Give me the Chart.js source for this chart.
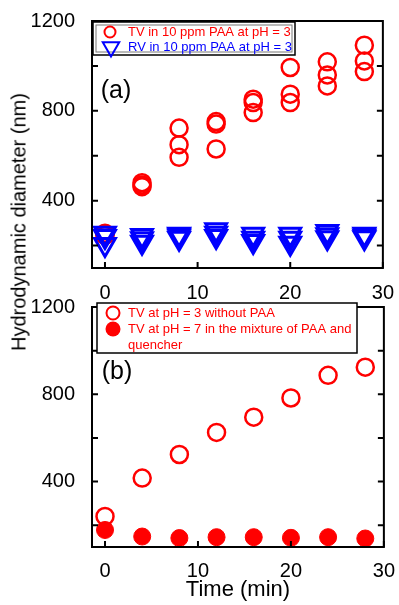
<!DOCTYPE html>
<html>
<head>
<meta charset="utf-8">
<script src="https://cdn.jsdelivr.net/npm/chart.js@4.4.1/dist/chart.umd.min.js"></script>
<style>
html, body { margin: 0; padding: 0; background: #fff; }
body { width: 399px; height: 605px; position: relative; overflow: hidden; font-family: "Liberation Sans", Arial, sans-serif; }
canvas { position: absolute; left: 0; }
#topChart { top: 0; }
#bottomChart { top: 286px; }
#yTitle { position: absolute; left: 19px; top: 222px; transform: translate(-50%, -50%) rotate(-90deg); font-size: 20px; white-space: nowrap; color: #000; }
</style>
</head>
<body>
<canvas id="topChart" width="399" height="300"></canvas>
<canvas id="bottomChart" width="399" height="319"></canvas>
<div id="yTitle">Hydrodynamic diameter (nm)</div>
<script>
const times = [0, 4, 8, 12, 16, 20, 24, 28];

// (a) three repeat measurements at each time
const tvPaaRun1 = [255, 480, 723, 752, 852, 993, 1018, 1092];
const tvPaaRun2 = [250, 470, 649, 741, 837, 874, 960, 1022];
const tvPaaRun3 = [245, 462, 593, 630, 792, 837, 911, 975];
const rvPaaRun1 = [255, 245, 250, 270, 250, 250, 262, 250];
const rvPaaRun2 = [240, 230, 242, 255, 232, 232, 248, 243];
const rvPaaRun3 = [205, 215, 232, 240, 218, 210, 235, 235];

// (b)
const tvNoPaa = [240, 416, 524, 625, 695, 783, 887, 924];
const tvQuenched = [178, 148, 141, 145, 145, 142, 145, 139];

const xTicks = [0, 10, 20, 30];
const yTicks = [200, 400, 600, 800, 1000, 1200];
const yLabelled = [400, 800, 1200];

const topLegend = [['TV in 10 ppm PAA at pH = 3'], ['RV in 10 ppm PAA at pH = 3']];
const bottomLegend = [['TV at pH = 3 without PAA'], ['TV at pH = 7 in the mixture of PAA and', 'quencher']];

const RED = '#ff0000';
const BLUE = '#0000ff';
const FONT = '"Liberation Sans", Arial, sans-serif';
Chart.defaults.font.family = FONT;
Chart.defaults.color = '#000';

const pts = ys => times.map((t, i) => ({ x: t, y: ys[i] }));

const ring = { pointStyle: 'circle', pointRadius: 8.5, pointBorderWidth: 2.5, pointBorderColor: RED, pointBackgroundColor: 'rgba(0,0,0,0)' };
const dot = { pointStyle: 'circle', pointRadius: 8.5, pointBorderWidth: 1, pointBorderColor: RED, pointBackgroundColor: RED };
const tri = { pointStyle: 'triangle', pointRotation: 180, pointRadius: 12, pointBorderWidth: 3, pointBorderColor: BLUE, pointBackgroundColor: 'rgba(0,0,0,0)' };

function drawMarker(ctx, kind, x, y, r, color) {
  ctx.save();
  ctx.strokeStyle = color;
  ctx.fillStyle = color;
  ctx.lineWidth = 2;
  ctx.beginPath();
  if (kind === 'tri') {
    const s = Math.sin(Math.PI / 3) * r;
    ctx.moveTo(x, y + r);
    ctx.lineTo(x - s, y - r / 2);
    ctx.lineTo(x + s, y - r / 2);
    ctx.closePath();
    ctx.stroke();
  } else {
    ctx.arc(x, y, r, 0, Math.PI * 2);
    if (kind === 'dot') ctx.fill(); else ctx.stroke();
  }
  ctx.restore();
}

// frame with inward ticks, legend box and panel tag
const panelDeco = {
  id: 'panelDeco',
  afterDatasetsDraw(chart) {
    const { ctx, chartArea: a, scales: { x, y } } = chart;
    ctx.save();
    ctx.strokeStyle = '#000';
    ctx.lineWidth = 2;
    ctx.strokeRect(a.left, a.top, a.right - a.left, a.bottom - a.top);
    ctx.beginPath();
    xTicks.forEach(v => {
      const px = x.getPixelForValue(v);
      ctx.moveTo(px, a.bottom);
      ctx.lineTo(px, a.bottom - 6);
    });
    yTicks.forEach(v => {
      const py = y.getPixelForValue(v);
      ctx.moveTo(a.left, py);
      ctx.lineTo(a.left + 6, py);
      ctx.moveTo(a.right, py);
      ctx.lineTo(a.right - 6, py);
    });
    ctx.stroke();
    ctx.restore();
  },
  afterDraw(chart, args, opts) {
    const ctx = chart.ctx;
    ctx.save();
    const b = opts.box;
    ctx.fillStyle = '#fff';
    ctx.fillRect(b.x, b.y, b.w, b.h);
    ctx.strokeStyle = '#000';
    ctx.lineWidth = 1.5;
    ctx.strokeRect(b.x, b.y, b.w, b.h);
    if (b.double) {
      ctx.strokeStyle = '#777';
      ctx.lineWidth = 1;
      ctx.strokeRect(b.x + 3, b.y + 3, b.w - 6, b.h - 6);
    }
    ctx.font = '13px ' + FONT;
    ctx.textBaseline = 'middle';
    ctx.textAlign = 'left';
    opts.rows.forEach(r => {
      drawMarker(ctx, r.kind, r.mx, r.y, r.r, r.color);
      ctx.fillStyle = r.textColor;
      r.lines.forEach((ln, i) => ctx.fillText(ln, r.tx, r.y + i * 16));
    });
    ctx.fillStyle = '#000';
    ctx.font = '25px ' + FONT;
    ctx.textAlign = 'center';
    ctx.fillText(opts.tag, opts.tagX, opts.tagY);
    ctx.restore();
  }
};

function makeScales(xHeight, xPad, xTitle) {
  return {
    x: {
      type: 'linear', min: -1.4, max: 30,
      grid: { display: false }, border: { display: false },
      afterBuildTicks: s => { s.ticks = xTicks.map(v => ({ value: v })); },
      afterFit: s => { s.height = xHeight; },
      ticks: { font: { size: 20 }, color: '#000', padding: xPad, maxRotation: 0, autoSkip: false },
      title: xTitle
        ? { display: true, text: 'Time (min)', font: { size: 22 }, color: '#000', padding: { top: 0, bottom: 2 } }
        : { display: false }
    },
    y: {
      min: 100, max: 1200,
      grid: { display: false }, border: { display: false },
      afterBuildTicks: s => { s.ticks = yTicks.map(v => ({ value: v })); },
      afterFit: s => { s.width = 92; },
      ticks: { font: { size: 20 }, color: '#000', padding: 9, callback: v => yLabelled.includes(v) ? String(v) : '' }
    }
  };
}

new Chart(document.getElementById('topChart'), {
  type: 'scatter',
  data: {
    datasets: [
      { label: topLegend[1][0], data: pts(rvPaaRun1), ...tri },
      { label: topLegend[1][0], data: pts(rvPaaRun2), ...tri },
      { label: topLegend[1][0], data: pts(rvPaaRun3), ...tri },
      { label: topLegend[0][0], data: pts(tvPaaRun1), ...ring },
      { label: topLegend[0][0], data: pts(tvPaaRun2), ...ring },
      { label: topLegend[0][0], data: pts(tvPaaRun3), ...ring }
    ]
  },
  options: {
    responsive: false,
    animation: false,
    events: [],
    devicePixelRatio: 1,
    layout: { padding: { top: 20, right: 14, left: 0, bottom: 0 } },
    scales: makeScales(32, 5, false),
    plugins: {
      legend: { display: false },
      tooltip: { enabled: false },
      panelDeco: {
        box: { x: 93, y: 22, w: 202, h: 33, double: true },
        rows: [
          { kind: 'ring', mx: 110, y: 32, r: 5.5, color: RED, textColor: RED, tx: 128, lines: topLegend[0] },
          { kind: 'tri', mx: 111, y: 47, r: 9.5, color: BLUE, textColor: BLUE, tx: 128, lines: topLegend[1] }
        ],
        tag: '(a)', tagX: 116, tagY: 91
      }
    }
  },
  plugins: [panelDeco]
});

new Chart(document.getElementById('bottomChart'), {
  type: 'scatter',
  data: {
    datasets: [
      { label: bottomLegend[1].join(' '), data: pts(tvQuenched), ...dot },
      { label: bottomLegend[0][0], data: pts(tvNoPaa), ...ring }
    ]
  },
  options: {
    responsive: false,
    animation: false,
    events: [],
    devicePixelRatio: 1,
    layout: { padding: { top: 14, right: 14, left: 0, bottom: 0 } },
    scales: makeScales(58, 4, true),
    plugins: {
      legend: { display: false },
      tooltip: { enabled: false },
      panelDeco: {
        box: { x: 97, y: 17, w: 260, h: 50, double: false },
        rows: [
          { kind: 'ring', mx: 113, y: 27, r: 6.5, color: RED, textColor: RED, tx: 128, lines: bottomLegend[0] },
          { kind: 'dot', mx: 113, y: 43, r: 7.5, color: RED, textColor: RED, tx: 128, lines: bottomLegend[1] }
        ],
        tag: '(b)', tagX: 117, tagY: 86
      }
    }
  },
  plugins: [panelDeco]
});
</script>
</body>
</html>
